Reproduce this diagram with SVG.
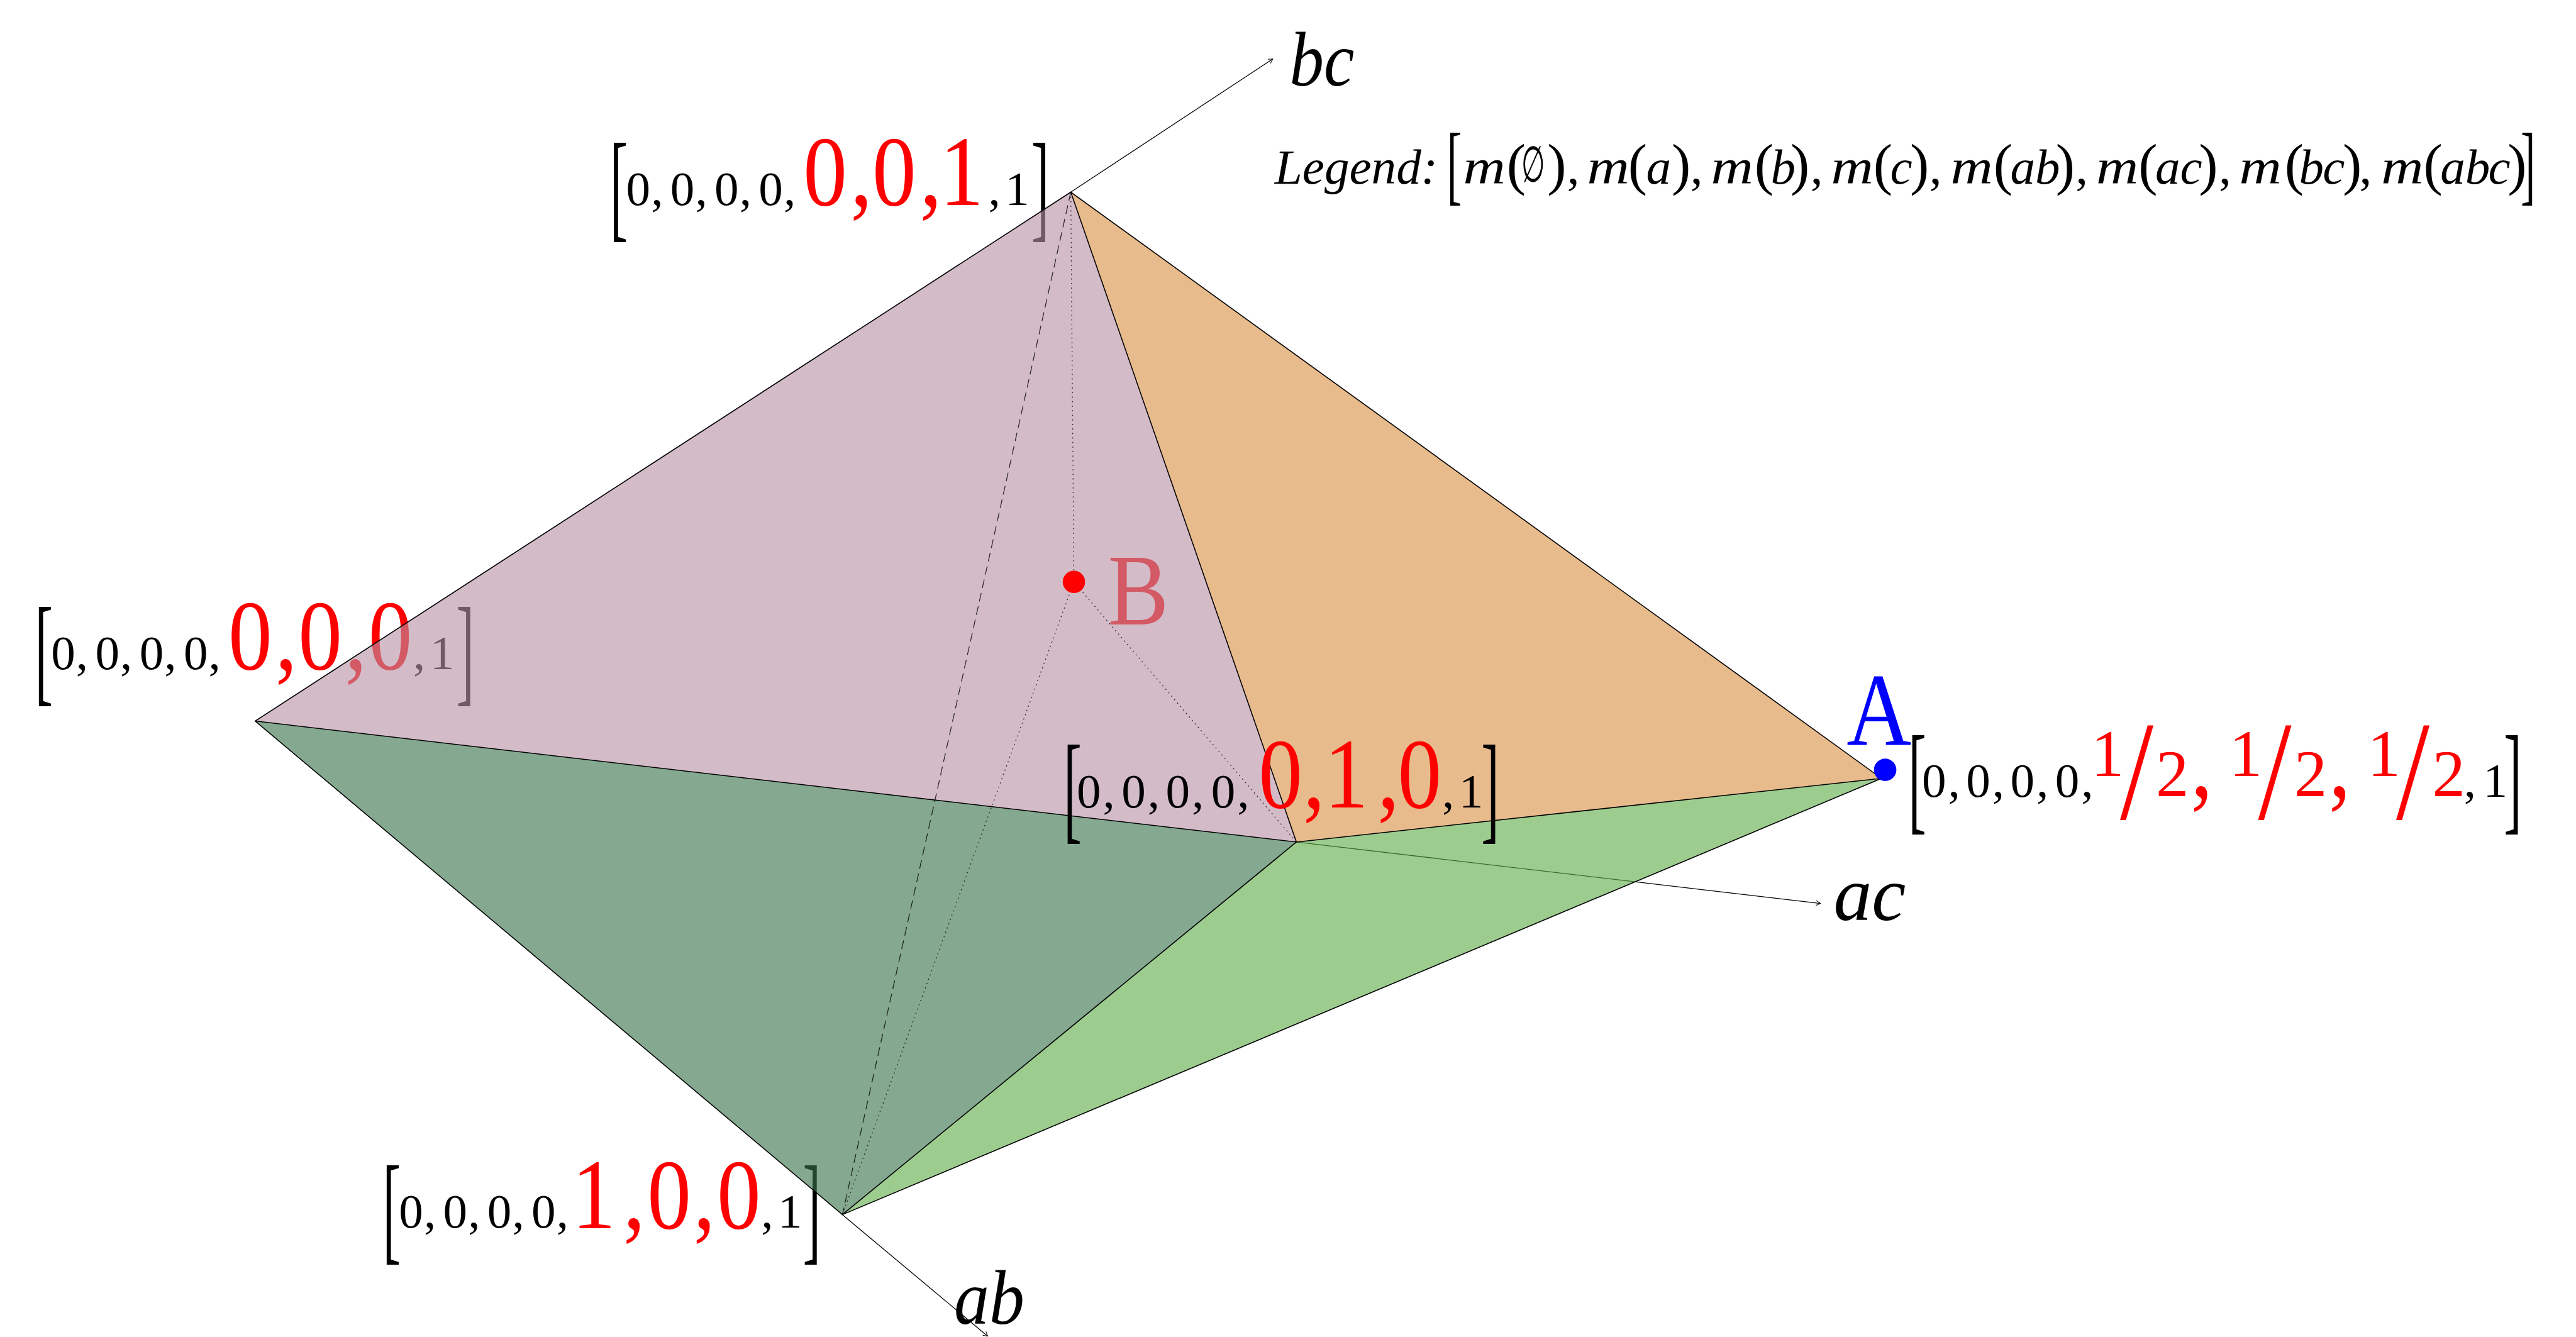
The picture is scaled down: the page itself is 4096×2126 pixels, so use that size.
<svg xmlns="http://www.w3.org/2000/svg" width="4096" height="2126" viewBox="0 0 4096 2126">
<defs>
<marker id="tip" markerUnits="userSpaceOnUse" markerWidth="14" markerHeight="14" refX="9" refY="6" orient="auto"><path d="M2,2 L9,6 L2,10" fill="none" stroke="#000" stroke-width="1"/></marker>
</defs>
<style>
text{font-family:"Liberation Serif","DejaVu Serif",serif;fill:#000}
.s{font-size:78px}
.r{font-size:160px;fill:#f00}
.fr{font-size:106px;fill:#f00}
.sl{font-size:227px;fill:#f00}
.br{font-size:193px}
.lb{font-size:142px}
.ax{font-size:125px;font-style:italic}
.lg{font-size:80px;font-style:italic}
.p{font-size:92px;font-style:normal}
.c{font-size:80px;font-style:normal}
.face{fill-opacity:.615;stroke:none}
.edge{stroke:#000;stroke-width:1.6;fill:none}
.axis{stroke:#000;stroke-width:1.3;fill:none;marker-end:url(#tip)}
.dash{stroke:#000;stroke-width:1.3;stroke-dasharray:14 8;fill:none;stroke-opacity:.8}
.dot{stroke:#000;stroke-width:1.4;stroke-dasharray:1.8 5.5;fill:none;stroke-opacity:.8}
</style>
<rect width="4096" height="2126" fill="#fff"/>
<g transform="scale(0.98961)">
<g id="node-001" transform="translate(988,230)">
<text class="br" transform="translate(-8,133) scale(.45,1)">[</text>
<text class="s" y="99" x="18 58 75 89 129 146 160 200 217 231 271">0, 0, 0, 0,</text>
<text class="r" transform="translate(0,99) scale(.88,1)" x="344 430 470 557 593">0,0,1</text>
<text class="s" y="99" x="600 627">,1</text>
<text class="br" transform="translate(669,133) scale(.45,1)">]</text>
</g>
<g id="node-000" transform="translate(64,976)">
<text class="br" transform="translate(-8,133) scale(.45,1)">[</text>
<text class="s" y="99" x="18 58 75 89 129 146 160 200 217 231 271">0, 0, 0, 0,</text>
<text class="r" transform="translate(0,99) scale(.88,1)" x="344 430 472 557 600">0,0,0</text>
<text class="s" y="99" x="600 627">,1</text>
<text class="br" transform="translate(669,133) scale(.45,1)">]</text>
</g>
<g id="node-100" transform="translate(623,1873)">
<text class="br" transform="translate(-8,133) scale(.45,1)">[</text>
<text class="s" y="100" x="18 58 75 89 129 146 160 200 217 231 271">0, 0, 0, 0,</text>
<text class="r" transform="translate(0,100) scale(.88,1)" x="336 430 474 558 601">1,0,0</text>
<text class="s" y="100" x="600 627">,1</text>
<text class="br" transform="translate(667,133) scale(.45,1)">]</text>
</g>
<g id="node-B">
<text x="1780" y="1003" font-size="163" style="fill:#f00" textLength="98" lengthAdjust="spacingAndGlyphs">B</text>
</g>
<g id="connectors">
<path class="axis" d="M1720.5,308.7 L2045,94.7"/>
<path class="axis" d="M2083,1353 L2925,1451.7"/>
<path class="axis" d="M1353.5,1951.7 L1587,2147"/>
</g>
<g id="faces">
<polygon class="face" fill="#b892a4" points="1720.5,308.7 410,1158.6 2083,1353"/>
<polygon class="face" fill="#da9146" points="1720.5,308.7 2083,1353 3023,1250.7"/>
<polygon class="face" fill="#39724b" points="410,1158.6 2083,1353 1353.5,1951.7"/>
<polygon class="face" fill="#60ac49" points="2083,1353 3023,1250.7 1353.5,1951.7"/>
<path class="edge" d="M1720.5,308.7 L410,1158.6 L1353.5,1951.7 L3023,1250.7 Z M1720.5,308.7 L2083,1353 L410,1158.6 M2083,1353 L3023,1250.7 M2083,1353 L1353.5,1951.7"/>
</g>
<g id="hidden-edges">
<path class="dash" d="M1720.5,308.7 L1353.5,1951.7"/>
<path class="dot" d="M1720.5,308.7 L1725.5,935"/>
<path class="dot" d="M1725.5,935 L1353.5,1951.7"/>
<path class="dot" d="M1725.5,935 L2083,1353"/>
</g>
<g id="point-B"><circle cx="1725.5" cy="935" r="18" fill="#f00"/></g>
<g id="point-A"><circle cx="3029" cy="1237" r="18" fill="#00f"/>
<text x="2967" y="1197" font-size="168" style="fill:#00f" textLength="104" lengthAdjust="spacingAndGlyphs">A</text></g>
<g id="node-010" transform="translate(1717,1197)">
<text class="br" transform="translate(-8,133) scale(.45,1)">[</text>
<text class="s" y="100" x="13 55 72 85 127 144 156 198 215 229 271">0, 0, 0, 0,</text>
<text class="r" transform="translate(0,100) scale(.88,1)" x="347 428 467 564 601">0,1,0</text>
<text class="s" y="100" x="600 627">,1</text>
<text class="br" transform="translate(663,133) scale(.45,1)">]</text>
</g>
<g id="node-half" transform="translate(3074,1182)">
<text class="br" transform="translate(-8,133) scale(.45,1)">[</text>
<text class="s" y="98" x="14 56 73 85 127 144 156 198 215 228 270">0, 0, 0, 0,</text>
<text class="fr" x="286" y="65">1</text><text class="sl" transform="translate(0,134) scale(.85,1)" x="391">/</text><text class="fr" x="390" y="97">2</text><text class="r" transform="translate(0,97) scale(.88,1)" x="507">,</text>
<text class="fr" x="508" y="65">1</text><text class="sl" transform="translate(0,134) scale(.85,1)" x="652">/</text><text class="fr" x="612" y="97">2</text><text class="r" transform="translate(0,97) scale(.88,1)" x="759">,</text>
<text class="fr" x="730" y="65">1</text><text class="sl" transform="translate(0,134) scale(.85,1)" x="913">/</text><text class="fr" x="834" y="97">2</text>
<text class="s" y="98" x="885 916">,1</text>
<text class="br" transform="translate(949,133) scale(.45,1)">]</text>
</g>
<g id="label-bc"><text class="ax" x="2072" y="137" textLength="104" lengthAdjust="spacingAndGlyphs">bc</text></g>
<g id="label-ac"><text class="ax" x="2946" y="1478" textLength="116" lengthAdjust="spacingAndGlyphs">ac</text></g>
<g id="label-ab"><text class="ax" x="1533" y="2127" textLength="113" lengthAdjust="spacingAndGlyphs">ab</text></g>
<g id="legend">
<text class="lg" x="2048" y="295">Legend:</text>
<text class="lb" transform="translate(2325,311) scale(.5,1)">[</text>
<text class="lg" transform="translate(2444,292) scale(.62,1.15)" style="font-family:'DejaVu Serif',serif;font-style:normal;font-size:70px">∅</text>
<text class="lg" y="295"><tspan x="2351" textLength="68" lengthAdjust="spacingAndGlyphs">m</tspan><tspan class="p" x="2421">(</tspan><tspan class="p" x="2486">)</tspan><tspan class="c" x="2518">,</tspan><tspan x="2550" textLength="68" lengthAdjust="spacingAndGlyphs">m</tspan><tspan class="p" x="2616">(</tspan><tspan x="2645">a</tspan><tspan class="p" x="2686">)</tspan><tspan class="c" x="2716">,</tspan><tspan x="2749" textLength="68" lengthAdjust="spacingAndGlyphs">m</tspan><tspan class="p" x="2819">(</tspan><tspan x="2845">b</tspan><tspan class="p" x="2877">)</tspan><tspan class="c" x="2909">,</tspan><tspan x="2942" textLength="68" lengthAdjust="spacingAndGlyphs">m</tspan><tspan class="p" x="3010">(</tspan><tspan x="3037">c</tspan><tspan class="p" x="3069">)</tspan><tspan class="c" x="3100">,</tspan><tspan x="3134" textLength="68" lengthAdjust="spacingAndGlyphs">m</tspan><tspan class="p" x="3203">(</tspan><tspan x="3230">a</tspan><tspan x="3270">b</tspan><tspan class="p" x="3303">)</tspan><tspan class="c" x="3335">,</tspan><tspan x="3368" textLength="68" lengthAdjust="spacingAndGlyphs">m</tspan><tspan class="p" x="3436">(</tspan><tspan x="3463">a</tspan><tspan x="3503">c</tspan><tspan class="p" x="3533">)</tspan><tspan class="c" x="3565">,</tspan><tspan x="3598" textLength="68" lengthAdjust="spacingAndGlyphs">m</tspan><tspan class="p" x="3671">(</tspan><tspan x="3694">b</tspan><tspan x="3732">c</tspan><tspan class="p" x="3764">)</tspan><tspan class="c" x="3791">,</tspan><tspan x="3826" textLength="68" lengthAdjust="spacingAndGlyphs">m</tspan><tspan class="p" x="3894">(</tspan><tspan x="3921">a</tspan><tspan x="3961">b</tspan><tspan x="3998">c</tspan><tspan class="p" x="4029">)</tspan></text>
<text class="lb" transform="translate(4050,311) scale(.5,1)">]</text>
</g>
</g>
</svg>
